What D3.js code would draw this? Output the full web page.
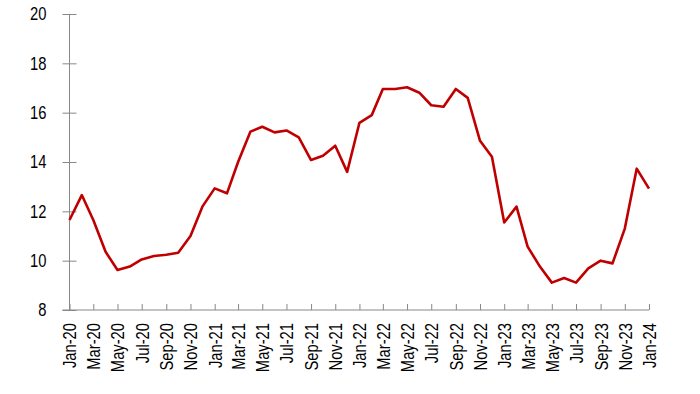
<!DOCTYPE html>
<meta charset="utf-8">
<style>
body { margin: 0; background: #fff; }
.axis text {
  font-family: "Liberation Sans Narrow", "Arial Narrow", "Liberation Sans", sans-serif;
  font-size: 18px;
  fill: #000;
}
.axis path, .axis line { stroke: #888; }
.series { fill: none; stroke: #c00000; stroke-width: 2.6; stroke-linejoin: round; }
</style>
<svg width="700" height="394"></svg>
<script src="https://cdn.jsdelivr.net/npm/d3@7"></script>
<script>

const svg = d3.select("svg")

//monthly values, Jan-20 .. Jan-24
const startMonth = new Date(2020, 0, 1),
      endMonth = new Date(2024, 0, 1)

const values = [
  11.65, 12.66, 11.65, 10.36, 9.62, 9.76, 10.05, 10.19, 10.24, 10.32, 11.0, 12.19,
  12.93, 12.73, 14.0, 15.23, 15.43, 15.2, 15.28, 15.0, 14.08, 14.25, 14.66, 13.6,
  15.59, 15.9, 16.96, 16.96, 17.03, 16.81, 16.3, 16.24, 16.96, 16.6, 14.86, 14.21,
  11.55, 12.19, 10.57, 9.76, 9.11, 9.3, 9.11, 9.69, 10.0, 9.89, 11.3, 13.73,
  12.92
]

const yTicks = [8, 10, 12, 14, 16, 18, 20]

const months = d3.timeMonth.range(startMonth, d3.timeMonth.offset(endMonth, 1))
const data = months.map((d, i) => ({date: d, value: values[i]}))

const margin = {left: 69.5, right: 51, top: 14, bottom: 84}
const width = 700, height = 394

//no narrow font installed -> squeeze the regular one
const squeeze = 0.82

const x = d3.scaleTime()
    .domain([startMonth, endMonth])
    .range([margin.left, width - margin.right])

const y = d3.scaleLinear()
    .domain([8, 20])
    .range([height - margin.bottom, margin.top])

//y axis, ticks cross the line
const yAxis = svg.append("g")
    .attr("class", "axis")
    .attr("transform", `translate(${margin.left},0)`)
    .call(d3.axisLeft(y).tickValues(yTicks).tickSize(7).tickPadding(16))
yAxis.select(".domain").remove()
yAxis.append("line")
    .attr("y1", y(20)).attr("y2", y(8))
    .attr("stroke", "#888")
yAxis.selectAll(".tick line").attr("x2", -7).attr("x1", 7)
yAxis.selectAll(".tick text")
    .attr("x", null)
    .attr("transform", `translate(-23,0) scale(${squeeze},1)`)

//x axis, ticks every 2 months pointing up
const xTicks = months.filter((d, i) => i % 2 === 0)
const xAxis = svg.append("g")
    .attr("class", "axis")
    .attr("transform", `translate(0,${height - margin.bottom})`)
    .call(d3.axisBottom(x).tickValues(xTicks).tickFormat(d3.timeFormat("%b-%y")).tickSize(-6))
xAxis.select(".domain").remove()
xAxis.append("line")
    .attr("x1", margin.left - 7).attr("x2", x(endMonth))
    .attr("stroke", "#888")
xAxis.selectAll(".tick text")
    .attr("transform", `rotate(-90) scale(${squeeze},1)`)
    .attr("text-anchor", "end")
    .attr("x", -13 / squeeze)
    .attr("y", 0)
    .attr("dy", "0.36em")

const line = d3.line()
    .x(d => x(d.date))
    .y(d => y(d.value))

svg.append("path")
    .datum(data)
    .attr("class", "series")
    .attr("d", line)

</script>
